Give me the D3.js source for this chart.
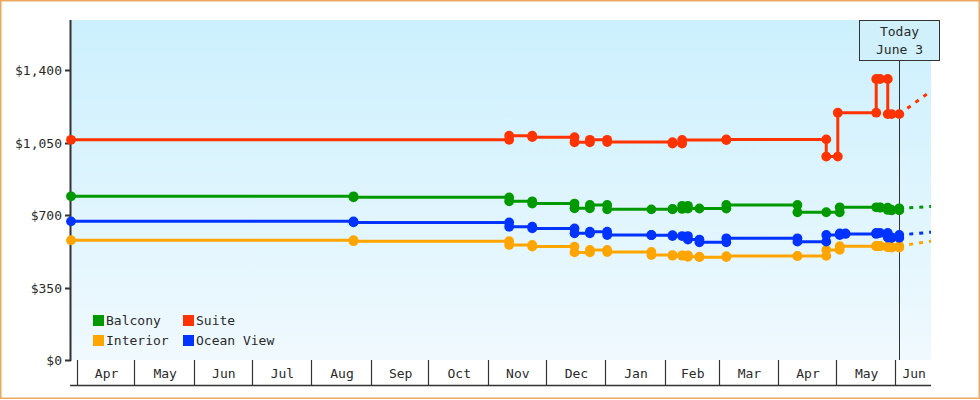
<!DOCTYPE html>
<html>
<head>
<meta charset="utf-8">
<script src="https://cdn.jsdelivr.net/npm/d3@7"></script>
<style>
  html, body { margin: 0; padding: 0; background: #fff; }
  svg { display: block; }
  text { font-family: "DejaVu Sans Mono", "Liberation Mono", monospace; font-size: 13px; fill: #2a2a2a; }
</style>
</head>
<body>
<svg id="chart" width="980" height="400"></svg>
<script>
// ---------- DATA ----------
const seriesNames = ["Balcony", "Suite", "Interior", "Ocean View"];

const balconyDates = ["2022-03-29","2022-08-23","2022-11-12","2022-11-24","2022-12-16","2022-12-24","2023-01-02","2023-01-25","2023-02-05","2023-02-10","2023-02-13","2023-02-19","2023-03-05","2023-04-11","2023-04-26","2023-05-03","2023-05-22","2023-05-24","2023-05-28","2023-05-30","2023-06-03"];
const balconyValues = [791, 786, 767, 756, 733, 749, 728, 728, 730, 745, 732, 732, 749, 714, 714, 738, 738, 736, 725, 723, 733];

const suiteDates = ["2022-03-29","2022-11-12","2022-11-24","2022-12-16","2022-12-24","2023-01-02","2023-02-05","2023-02-10","2023-03-05","2023-04-26","2023-05-02","2023-05-22","2023-05-24","2023-05-28","2023-05-30","2023-06-03"];
const suiteValues = [1064, 1084, 1077, 1052, 1064, 1053, 1046, 1063, 1066, 983, 1195, 1358, 1358, 1188, 1188, 1188];

const interiorDates = ["2022-03-29","2022-08-23","2022-11-12","2022-11-24","2022-12-16","2022-12-24","2023-01-02","2023-01-25","2023-02-05","2023-02-10","2023-02-13","2023-02-19","2023-03-05","2023-04-11","2023-04-26","2023-05-03","2023-05-22","2023-05-24","2023-05-28","2023-05-30","2023-06-03"];
const interiorValues = [579, 574, 556, 548, 520, 532, 522, 507, 504, 506, 499, 497, 502, 503, 532, 550, 551, 549, 545, 543, 551];

const oceanDates = ["2022-03-29","2022-08-23","2022-11-12","2022-11-24","2022-12-16","2022-12-24","2023-01-02","2023-01-25","2023-02-05","2023-02-10","2023-02-13","2023-02-19","2023-03-05","2023-04-11","2023-04-26","2023-05-03","2023-05-06","2023-05-22","2023-05-24","2023-05-28","2023-05-30","2023-06-03"];
const oceanValues = [670, 665, 644, 636, 612, 620, 604, 603, 599, 599, 582, 569, 588, 572, 604, 612, 609, 614, 614, 592, 590, 604];

// projected (dashed) trend after today
const forecastDates = ["2023-06-03", "2023-06-20"];
const balconyForecast = [733, 742];
const suiteForecast = [1188, 1303];
const interiorForecast = [551, 575];
const oceanForecast = [604, 618];

const yTicks = [0, 350, 700, 1050, 1400];
const todayDate = "2023-06-03";
const todayLabel = ["Today", "June 3"];
const domainStart = "2022-03-29";
const domainEnd = "2023-06-19T12:00";

// ---------- SETUP ----------
const parse = d3.timeParse("%Y-%m-%d");
const parseT = d3.timeParse("%Y-%m-%dT%H:%M");
const colors = { "Balcony": "#009a00", "Suite": "#ff3300", "Interior": "#ffa500", "Ocean View": "#0033ff" };

const series = [
  { name: "Balcony", dates: balconyDates, values: balconyValues, fc: balconyForecast },
  { name: "Suite", dates: suiteDates, values: suiteValues, fc: suiteForecast },
  { name: "Interior", dates: interiorDates, values: interiorValues, fc: interiorForecast },
  { name: "Ocean View", dates: oceanDates, values: oceanValues, fc: oceanForecast }
].map(s => ({
  name: s.name,
  points: s.dates.map((d, i) => ({ date: parse(d), value: s.values[i] })),
  forecast: forecastDates.map((d, i) => ({ date: parse(d), value: s.fc[i] }))
}));

const plot = { left: 71, right: 931, top: 20, bottom: 360 };
const svg = d3.select("#chart");

const x = d3.scaleTime().domain([parse(domainStart), parseT(domainEnd)]).range([plot.left, plot.right]);
const y = d3.scaleLinear().domain([0, 1643]).range([plot.bottom, plot.top]);

// gradient background
const defs = svg.append("defs");
const grad = defs.append("linearGradient").attr("id", "bg").attr("x1", 0).attr("y1", 0).attr("x2", 0).attr("y2", 1);
grad.append("stop").attr("offset", "0%").attr("stop-color", "#ccf0fd");
grad.append("stop").attr("offset", "100%").attr("stop-color", "#f0f9fe");
defs.append("clipPath").attr("id", "clip").append("rect")
  .attr("x", plot.left - 6).attr("y", plot.top).attr("width", plot.right - plot.left + 6).attr("height", plot.bottom - plot.top);

// outer border
svg.append("rect").attr("x", 0.75).attr("y", 0.75).attr("width", 978.5).attr("height", 397.5)
  .attr("fill", "#fff").attr("stroke", "#eaa862").attr("stroke-width", 1.5);

// plot background
svg.append("rect").attr("x", plot.left).attr("y", plot.top)
  .attr("width", plot.right - plot.left).attr("height", plot.bottom - plot.top)
  .attr("fill", "url(#bg)");

// month band
const months = d3.timeMonths(d3.timeMonth.ceil(x.domain()[0]), x.domain()[1]);
const band = svg.append("g");
band.append("line").attr("x1", plot.left - 1).attr("x2", plot.right)
  .attr("y1", 385.5).attr("y2", 385.5).attr("stroke", "#333").attr("stroke-width", 1.5);
months.forEach((m, i) => {
  const x0 = Math.round(x(m)) + 0.5;
  band.append("line").attr("x1", x0).attr("x2", x0).attr("y1", plot.bottom).attr("y2", 385.5)
    .attr("stroke", "#333").attr("stroke-width", 1.2);
  const next = i + 1 < months.length ? x(months[i + 1]) : plot.right;
  band.append("text").attr("x", (x(m) + next) / 2 + 1).attr("y", 378)
    .attr("text-anchor", "middle").text(d3.timeFormat("%b")(m));
});

// y axis
const yAxis = svg.append("g");
yAxis.append("line").attr("x1", 70.5).attr("x2", 70.5).attr("y1", plot.top).attr("y2", plot.bottom + 1)
  .attr("stroke", "#333").attr("stroke-width", 2);
yTicks.forEach(t => {
  const yy = Math.round(y(t)) + 0.5;
  yAxis.append("line").attr("x1", 65).attr("x2", 71).attr("y1", yy).attr("y2", yy)
    .attr("stroke", "#333").attr("stroke-width", 2);
  yAxis.append("text").attr("x", 62).attr("y", yy).attr("dy", "0.35em")
    .attr("text-anchor", "end").text(d3.format("$,")(t));
});

// today line
const tx = Math.round(x(parse(todayDate))) + 0.5;
svg.append("line").attr("x1", tx).attr("x2", tx).attr("y1", 60).attr("y2", plot.bottom)
  .attr("stroke", "#333").attr("stroke-width", 1);

// series
const g = svg.append("g").attr("clip-path", "url(#clip)");
const line = d3.line().x(d => x(d.date)).y(d => y(d.value)).curve(d3.curveStepAfter);
const fline = d3.line().x(d => x(d.date)).y(d => y(d.value));

series.forEach(s => {
  const c = colors[s.name];
  g.append("path").attr("d", fline(s.forecast)).attr("fill", "none")
    .attr("stroke", c).attr("stroke-width", 3).attr("stroke-dasharray", "4,6").attr("stroke-dashoffset", -10);
  g.append("path").attr("d", line(s.points)).attr("fill", "none")
    .attr("stroke", c).attr("stroke-width", 3).attr("stroke-linejoin", "round");
  const marks = [];
  s.points.forEach((p, i) => {
    if (i > 0 && s.points[i - 1].value !== p.value) marks.push({ date: p.date, value: s.points[i - 1].value });
    marks.push(p);
  });
  g.selectAll(null).data(marks).enter().append("circle")
    .attr("cx", d => x(d.date)).attr("cy", d => y(d.value)).attr("r", 4.9).attr("fill", c);
});

// today box (drawn over)
const bx = svg.append("g");
bx.append("rect").attr("x", 859.5).attr("y", 20.5).attr("width", 80).attr("height", 40)
  .attr("fill", "#d0f0fc").attr("stroke", "#333").attr("stroke-width", 1);
bx.append("text").attr("x", 899.5).attr("y", 36).attr("text-anchor", "middle").text(todayLabel[0]);
bx.append("text").attr("x", 899.5).attr("y", 54).attr("text-anchor", "middle").text(todayLabel[1]);

// legend
const legendPos = [[93, 315], [183, 315], [93, 335], [183, 335]];
seriesNames.forEach((n, i) => {
  const [lx, ly] = legendPos[i];
  svg.append("rect").attr("x", lx).attr("y", ly).attr("width", 11).attr("height", 11).attr("fill", colors[n]);
  svg.append("text").attr("x", lx + 13).attr("y", ly + 10).text(n);
});
</script>
</body>
</html>
